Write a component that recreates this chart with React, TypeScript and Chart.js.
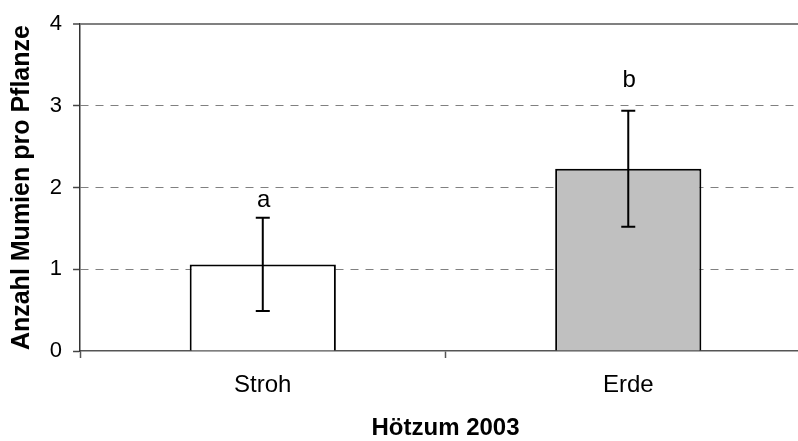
import React, { useEffect, useRef } from "react";
import { Chart, registerables } from "chart.js";

Chart.register(...registerables);

const categories = ["Stroh", "Erde"];
const means = [1.06, 2.23];
const errors = [0.57, 0.71];
const letters = ["a", "b"];
const letterValues = [1.76, 3.23];
const barColors = ["#FFFFFF", "#C0C0C0"];
const yTicks = [0, 1, 2, 3, 4];

const FONT = "'Liberation Sans', Arial, sans-serif";

const errorBarPlugin = {
  id: "errorBars",
  afterDatasetsDraw(chart: any) {
    const { ctx } = chart;
    const meta = chart.getDatasetMeta(0);
    const yScale = chart.scales.y;
    ctx.save();
    ctx.strokeStyle = "#000";
    ctx.lineWidth = 2;
    meta.data.forEach((bar: any, i: number) => {
      const x = bar.x;
      const yTop = yScale.getPixelForValue(means[i] + errors[i]);
      const yBot = yScale.getPixelForValue(means[i] - errors[i]);
      ctx.beginPath();
      ctx.moveTo(x, yTop);
      ctx.lineTo(x, yBot);
      ctx.moveTo(x - 7, yTop);
      ctx.lineTo(x + 7, yTop);
      ctx.moveTo(x - 7, yBot);
      ctx.lineTo(x + 7, yBot);
      ctx.stroke();
      ctx.fillStyle = "#000";
      ctx.font = `24px ${FONT}`;
      ctx.textAlign = "center";
      ctx.textBaseline = "alphabetic";
      ctx.fillText(letters[i], x + 1, yScale.getPixelForValue(letterValues[i]));
    });
    ctx.restore();
  },
};

export default function App() {
  const ref = useRef<HTMLCanvasElement | null>(null);
  useEffect(() => {
    if (!ref.current) return;
    const chart = new Chart(ref.current, {
      type: "bar",
      data: {
        labels: categories,
        datasets: [
          {
            data: means,
            backgroundColor: barColors,
            borderColor: "#000",
            borderWidth: 2,
            borderSkipped: "start",
            categoryPercentage: 0.4,
            barPercentage: 1,
          },
        ],
      },
      options: {
        responsive: false,
        animation: false,
        layout: { padding: { left: 0, right: 1, top: 22, bottom: 0 } },
        plugins: {
          legend: { display: false },
          tooltip: { enabled: false },
        },
        scales: {
          x: {
            grid: {
              offset: true,
              drawOnChartArea: false,
              drawTicks: true,
              tickLength: 7,
              tickColor: "#555",
              tickWidth: 1.5,
            },
            border: { color: "#555", width: 1.5 },
            ticks: {
              color: "#000",
              padding: 15,
              font: { family: FONT, size: 24, lineHeight: 1 },
            },
            title: {
              display: true,
              text: "Hötzum 2003",
              color: "#000",
              font: { family: FONT, size: 24, weight: "bold", lineHeight: 1 },
              padding: { top: 4.5, bottom: 0.5 },
            },
          },
          y: {
            min: 0,
            max: 4,
            afterBuildTicks: (scale: any) => {
              scale.ticks = yTicks.map((v) => ({ value: v }));
            },
            grid: {
              color: (c: any) => (c.tick && c.tick.value === 0 ? "rgba(0,0,0,0)" : "#808080"),
              lineWidth: (c: any) => (c.tick && c.tick.value === 4 ? 2 : 1),
              drawTicks: true,
              tickLength: 7,
              tickColor: "#444",
              tickWidth: 1.5,
            },
            border: {
              color: "#333",
              width: 1.5,
              dash: (c: any) => (c.tick && c.tick.value !== 4 ? [8, 7] : []),
            },
            ticks: {
              color: "#000",
              padding: 11,
              font: { family: FONT, size: 22 },
            },
            title: {
              display: true,
              text: "Anzahl Mumien pro Pflanze",
              color: "#000",
              font: { family: FONT, size: 25, weight: "bold", lineHeight: 1 },
              padding: { top: 10, bottom: 3.8 },
            },
          },
        },
      },
      plugins: [errorBarPlugin],
    } as any);
    return () => chart.destroy();
  }, []);

  return (
    <div
      style={{
        position: "absolute",
        left: 0,
        top: 0,
        width: 798,
        height: 441,
        overflow: "hidden",
        background: "#fff",
      }}
    >
      <canvas ref={ref} width={812} height={441} style={{ display: "block" }} />
    </div>
  );
}
